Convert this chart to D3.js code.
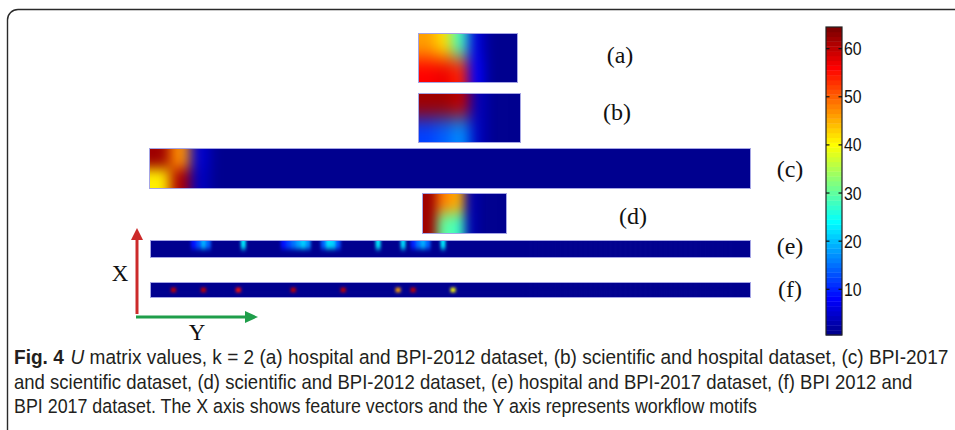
<!DOCTYPE html>
<html>
<head>
<meta charset="utf-8">
<script src="https://cdn.jsdelivr.net/npm/d3@7"></script>
<style>
  body { margin: 0; background: #fff; }
  svg { display: block; }
</style>
</head>
<body>
<div id="chart"></div>
<script>
// U matrix heatmaps (a)-(f) with jet colour bar

// ---- data ----
const panelIds = ['a', 'b', 'c', 'd', 'e', 'f'];
const panelLabels = ['(a)', '(b)', '(c)', '(d)', '(e)', '(f)'];

// dense matrices, row 0 = top
const matA = [[46, 42, 28, 6, 1, 1], [56, 57, 54, 8, 1, 1]];
const matB = [[62, 62, 60, 4, 1, 1], [12, 14, 17, 4, 1, 1]];
const matD = [[62, 48, 45, 3, 1, 1], [62, 30, 28, 3, 1, 1]];

// sparse matrices: [row, col, value], all other cells = 1
const spotsC = [[0, 0, 62], [0, 1, 47], [0, 2, 5], [1, 0, 41], [1, 1, 61], [1, 2, 4]];
const spotsE = [
  [0, 8, 9], [0, 9, 13], [0, 10, 19], [0, 11, 14],
  [0, 18, 23],
  [0, 26, 9], [0, 27, 12], [0, 28, 15], [0, 29, 18], [0, 30, 21], [0, 31, 17],
  [0, 34, 14], [0, 35, 22], [0, 36, 21], [0, 37, 13],
  [0, 45, 23], [0, 50, 22],
  [0, 52, 10], [0, 53, 15], [0, 54, 19], [0, 55, 14],
  [0, 58, 23]
];
const spotsF = [
  [1, 4, 60], [1, 10, 60], [1, 17, 55], [1, 28, 60],
  [1, 38, 60], [1, 49, 46], [1, 52, 60], [1, 60, 40]
];

const colorTicks = [10, 20, 30, 40, 50, 60];

const captionLines = [
  [{t: 'Fig. 4', b: true}, {t: 'U', i: true, dx: 7}, {t: ' matrix values, k = 2 (a) hospital and BPI-2012 dataset, (b) scientific and hospital dataset, (c) BPI-2017'}],
  [{t: 'and scientific dataset, (d) scientific and BPI-2012 dataset, (e) hospital and BPI-2017 dataset, (f) BPI 2012 and'}],
  [{t: 'BPI 2017 dataset. The X axis shows feature vectors and the Y axis represents workflow motifs'}]
];

// ---- layout ----
const W = 955, H = 430;
const layout = {
  a: {cols: 6, rows: 2, x0: 419, x1: 517, y0: 34, y1: 82, lx: 620, ly: 55, blur: 0.4},
  b: {cols: 6, rows: 2, x0: 419, x1: 520, y0: 94, y1: 142, lx: 617, ly: 112, blur: 0.4},
  c: {cols: 30, rows: 2, x0: 150, x1: 750, y0: 149, y1: 188, lx: 790, ly: 169, blur: 0.32},
  d: {cols: 6, rows: 2, x0: 423, x1: 506, y0: 194, y1: 233, lx: 633, ly: 216, blur: 0.38},
  e: {cols: 120, rows: 2, x0: 151, x1: 750, y0: 241, y1: 257, lx: 790, ly: 246, blur: 0.3},
  f: {cols: 120, rows: 3, x0: 151, x1: 750, y0: 283, y1: 297, lx: 790, ly: 289, blur: 0.3}
};

function denseFromSpots(p, spots) {
  const g = d3.range(p.rows).map(() => d3.range(p.cols).map(() => 1));
  spots.forEach(([r, c, v]) => { g[r][c] = v; });
  return g;
}

const grids = {
  a: matA,
  b: matB,
  c: denseFromSpots(layout.c, spotsC),
  d: matD,
  e: denseFromSpots(layout.e, spotsE),
  f: denseFromSpots(layout.f, spotsF)
};

// MATLAB style jet
function jet(t) {
  const cl = x => Math.max(0, Math.min(1, x));
  const r = cl(1.5 - Math.abs(4 * t - 3));
  const g = cl(1.5 - Math.abs(4 * t - 2));
  const b = cl(1.5 - Math.abs(4 * t - 1));
  return d3.rgb(r * 255, g * 255, b * 255).formatHex();
}
const color = d3.scaleSequential(jet).domain([0, 64]);

const svg = d3.select('#chart').append('svg').attr('width', W).attr('height', H);
const defs = svg.append('defs');

// card frame
svg.append('path')
  .attr('d', 'M7.5,' + (H + 2) + ' L7.5,20 A10.5,10.5 0 0 1 18,9.5 L' + (W + 2) + ',9.5')
  .attr('fill', 'none').attr('stroke', '#2a2a2a').attr('stroke-width', 1.4);

// ---- heatmaps ----
panelIds.forEach(function (id, k) {
  const p = layout[id];
  const grid = grids[id];
  const x = d3.scaleBand().domain(d3.range(p.cols)).range([p.x0, p.x1]);
  const y = d3.scaleBand().domain(d3.range(p.rows)).range([p.y0, p.y1]);
  const sx = x.bandwidth() * p.blur, sy = y.bandwidth() * p.blur;
  const pad = Math.ceil(3 * Math.max(sx, sy)) + 2;

  defs.append('clipPath').attr('id', 'clip-' + id).append('rect')
    .attr('x', p.x0).attr('y', p.y0)
    .attr('width', p.x1 - p.x0).attr('height', p.y1 - p.y0);

  defs.append('filter').attr('id', 'blur-' + id)
    .attr('filterUnits', 'userSpaceOnUse')
    .attr('x', p.x0 - pad).attr('y', p.y0 - pad)
    .attr('width', p.x1 - p.x0 + 2 * pad).attr('height', p.y1 - p.y0 + 2 * pad)
    .attr('color-interpolation-filters', 'sRGB')
    .append('feGaussianBlur').attr('stdDeviation', sx + ' ' + sy);

  const cells = [];
  grid.forEach((row, r) => row.forEach((v, c) => cells.push({r: r, c: c, v: v})));

  // edge cells are stretched outward so the blur does not fade into white
  svg.append('g').attr('clip-path', 'url(#clip-' + id + ')')
    .append('g').attr('filter', 'url(#blur-' + id + ')')
    .selectAll('rect').data(cells).join('rect')
    .attr('x', d => x(d.c) - (d.c === 0 ? pad : 0))
    .attr('y', d => y(d.r) - (d.r === 0 ? pad : 0))
    .attr('width', d => x.bandwidth() + 0.6 + (d.c === 0 ? pad : 0) + (d.c === p.cols - 1 ? pad : 0))
    .attr('height', d => y.bandwidth() + 0.6 + (d.r === 0 ? pad : 0) + (d.r === p.rows - 1 ? pad : 0))
    .attr('fill', d => color(d.v));

  svg.append('rect')
    .attr('x', p.x0 - 0.5).attr('y', p.y0 - 0.5)
    .attr('width', p.x1 - p.x0 + 1).attr('height', p.y1 - p.y0 + 1)
    .attr('fill', 'none').attr('stroke', '#a4a4e4').attr('stroke-width', 1);

  svg.append('text')
    .attr('x', p.lx).attr('y', p.ly)
    .attr('text-anchor', 'middle').attr('dominant-baseline', 'central')
    .style('font-family', '"Liberation Serif", "Times New Roman", serif')
    .style('font-size', '24px').attr('fill', '#111')
    .text(panelLabels[k]);
});

// ---- colour bar ----
const cb = {x0: 826, x1: 842, y0: 27, y1: 335};
const cbY = d3.scaleLinear().domain([0.5, 64.5]).range([cb.y1, cb.y0]);
const levels = d3.range(1, 65);
svg.append('g').selectAll('rect').data(levels).join('rect')
  .attr('x', cb.x0).attr('width', cb.x1 - cb.x0)
  .attr('y', d => cbY(d + 0.5)).attr('height', d => cbY(d - 0.5) - cbY(d + 0.5) + 0.4)
  .attr('fill', d => color(d));
svg.append('rect')
  .attr('x', cb.x0).attr('y', cb.y0).attr('width', cb.x1 - cb.x0).attr('height', cb.y1 - cb.y0)
  .attr('fill', 'none').attr('stroke', '#222').attr('stroke-width', 1.2);
const tk = svg.append('g').selectAll('g').data(colorTicks).join('g')
  .attr('transform', d => 'translate(0,' + cbY(d) + ')');
tk.append('line').attr('x1', cb.x0).attr('x2', cb.x0 + 3.5).attr('stroke', '#111').attr('stroke-width', 1.2);
tk.append('line').attr('x1', cb.x1 - 3.5).attr('x2', cb.x1).attr('stroke', '#111').attr('stroke-width', 1.2);
tk.append('text')
  .attr('dy', '0.36em')
  .attr('transform', 'translate(' + (cb.x1 + 2) + ',0) scale(0.88,1)')
  .style('font-family', '"Liberation Sans", Arial, sans-serif')
  .style('font-size', '18px').attr('fill', '#111')
  .text(d => d);

// ---- X / Y arrows ----
const red = '#cc2a2a', green = '#1f9e4a';
svg.append('line').attr('x1', 137).attr('y1', 314).attr('x2', 137).attr('y2', 238)
  .attr('stroke', red).attr('stroke-width', 3);
svg.append('path').attr('d', 'M131,240 L143,240 L137,228 Z').attr('fill', red);
svg.append('line').attr('x1', 136).attr('y1', 317).attr('x2', 247).attr('y2', 317)
  .attr('stroke', green).attr('stroke-width', 3);
svg.append('path').attr('d', 'M245,311 L245,323 L258,317 Z').attr('fill', green);
svg.append('text').attr('x', 120).attr('y', 273)
  .attr('text-anchor', 'middle').attr('dominant-baseline', 'central')
  .style('font-family', '"Liberation Serif", "Times New Roman", serif')
  .style('font-size', '23px').attr('fill', '#111').text('X');
svg.append('text').attr('x', 197).attr('y', 332)
  .attr('text-anchor', 'middle').attr('dominant-baseline', 'central')
  .style('font-family', '"Liberation Serif", "Times New Roman", serif')
  .style('font-size', '23px').attr('fill', '#111').text('Y');

// ---- caption ----
const capX = 14, capBase = [364, 389, 413], capWidth = [928, 899, 743];
captionLines.forEach(function (parts, i) {
  const t = svg.append('text')
    .style('font-family', '"Liberation Sans", Arial, sans-serif')
    .style('font-size', '19.5px').attr('fill', '#231f20');
  parts.forEach(function (s) {
    const ts = t.append('tspan').text(s.t);
    if (s.b) ts.style('font-weight', 'bold');
    if (s.i) ts.style('font-style', 'italic');
    if (s.dx) ts.attr('dx', s.dx);
  });
  const w = t.node().getComputedTextLength();
  t.attr('transform', 'translate(' + capX + ',' + capBase[i] + ') scale(' + (capWidth[i] / w) + ',1)');
});
</script>
</body>
</html>
